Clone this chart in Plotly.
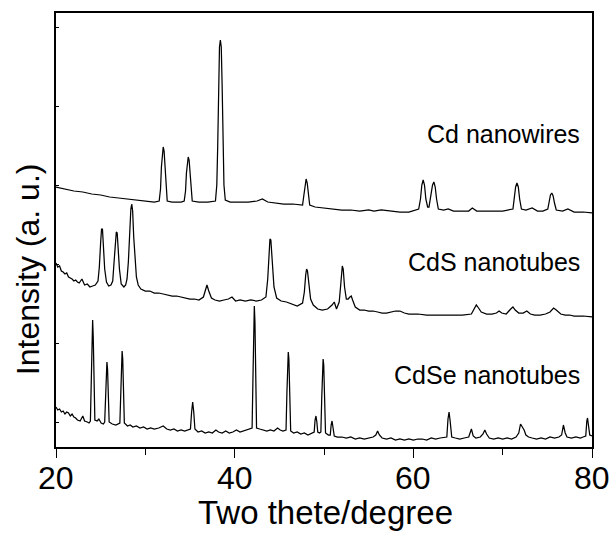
import plotly.graph_objects as go

# Two-theta (degree) and intensity (a.u.)
cd_x = [20.0, 21.0, 22.0, 23.0, 24.0, 25.0, 26.0, 27.0, 28.0, 29.0, 30.0, 31.0,
        31.55, 31.7, 31.8, 31.9, 32.0, 32.1, 32.2, 32.3, 32.45, 33.0, 34.0,
        34.35, 34.5, 34.6, 34.7, 34.8, 34.9, 35.0, 35.1, 35.25, 36.0, 37.0,
        37.85, 38.0, 38.1, 38.2, 38.3, 38.4, 38.5, 38.6, 38.7, 38.8, 38.95,
        39.5, 40.5, 41.5, 42.5, 43.1, 43.7, 44.5, 45.5, 46.5,
        47.6, 47.75, 47.88, 48.0, 48.12, 48.25, 48.4, 49.0, 50.0, 51.0, 52.0, 53.0, 54.0,
        55.0, 55.6, 56.4, 57.5, 58.5, 59.5,
        60.6, 60.8, 60.95, 61.1, 61.25, 61.4, 61.6, 61.75, 61.95, 62.15, 62.3, 62.45, 62.6, 62.8,
        63.4, 63.9, 64.5, 65.5, 66.2, 66.6, 67.1, 68.0, 69.0, 70.0,
        71.15, 71.3, 71.45, 71.6, 71.75, 71.9, 72.1, 72.6, 73.3, 73.9, 74.5,
        75.05, 75.2, 75.35, 75.5, 75.65, 75.8, 76.0, 76.7, 77.3, 78.0, 79.0, 80.0]
cd_y = [260, 258, 256, 255, 253, 252, 250, 249, 248, 247, 246, 245,
        246, 258, 280, 296, 300, 296, 280, 258, 246, 245, 245,
        246, 256, 274, 287, 290, 287, 274, 256, 246, 245, 245,
        246, 262, 300, 360, 400, 407, 400, 360, 300, 262, 247,
        245, 245, 245, 246, 248, 245, 244, 243, 243,
        242, 252, 264, 268, 264, 252, 242, 240, 239, 238, 237, 237, 236,
        237, 236, 237, 236, 235, 235,
        238, 248, 262, 267, 262, 248, 240, 240, 252, 262, 265, 260, 248, 238,
        237, 238, 236, 236, 236, 239, 236, 236, 236, 236,
        238, 248, 260, 264, 260, 248, 238, 237, 239, 236, 236,
        238, 245, 252, 254, 251, 244, 237, 236, 238, 235, 235, 234]

cds_x = [20.0, 20.2, 20.4, 20.6, 20.8, 21.0, 21.2, 21.4, 21.6, 21.8, 22.0, 22.2, 22.4, 22.6, 22.9,
         23.2, 23.5, 23.8, 24.1, 24.4, 24.7, 24.85, 25.0, 25.1, 25.2, 25.3, 25.45, 25.65, 25.9,
         26.15, 26.35, 26.5, 26.65, 26.75, 26.85, 26.95, 27.1, 27.3, 27.6, 27.8, 27.95, 28.1,
         28.25, 28.38, 28.48, 28.58, 28.7, 28.85, 29.0, 29.2, 29.5, 30.0, 30.5, 31.0, 31.5,
         32.0, 32.5, 33.0, 33.5, 34.0, 34.5, 35.0, 35.5, 36.0, 36.5, 36.7, 36.9, 37.1, 37.4,
         37.8, 38.3, 38.8, 39.3, 39.7, 40.1, 40.6, 41.2, 41.8, 42.4, 43.0, 43.5, 43.7, 43.85,
         43.95, 44.05, 44.2, 44.4, 44.7, 45.2, 45.8, 46.4, 47.0, 47.6, 47.8, 47.95, 48.05,
         48.15, 48.3, 48.5, 48.8, 49.3, 49.8, 50.4, 50.9, 51.15, 51.4, 51.7, 51.85, 51.97,
         52.05, 52.15, 52.3, 52.5, 52.7, 52.9, 53.05, 53.2, 53.5, 54.0, 54.5, 55.0, 55.5,
         56.0, 56.5, 57.0, 57.5, 58.0, 58.5, 59.0, 59.5, 60.5, 61.5, 62.5, 63.5, 64.5, 65.5,
         66.5, 66.8, 67.05, 67.3, 67.6, 68.2, 68.8, 69.3, 69.6, 69.9, 70.4, 70.9, 71.15,
         71.4, 71.8, 72.3, 72.7, 73.1, 73.6, 74.2, 74.8, 75.3, 75.7, 76.0, 76.5, 77.0, 77.5,
         78.0, 79.0, 80.0]
cds_y = [184, 180, 181, 176, 175, 173, 174, 170, 169, 168, 166, 167, 165, 164, 168,
         162, 163, 160, 161, 162, 166, 180, 205, 218, 218, 200, 178, 165, 161,
         162, 166, 185, 207, 215, 214, 200, 178, 163, 160, 162, 168, 185,
         215, 238, 243, 236, 210, 185, 170, 162, 158, 156, 156, 154, 154,
         153, 152, 151, 151, 150, 149, 148, 148, 147, 150, 157, 162, 156, 149,
         147, 146, 147, 148, 150, 146, 147, 146, 147, 146, 147, 150, 168, 195,
         208, 207, 185, 160, 149, 146, 145, 143, 141, 144, 155, 172, 178,
         176, 162, 148, 142, 138, 137, 138, 142, 145, 138, 145, 160, 176,
         181, 178, 160, 148, 148, 150, 151, 147, 140, 137, 137, 136, 136,
         135, 134, 134, 135, 136, 136, 134, 133, 133, 132, 132, 132, 132, 132,
         133, 138, 142, 139, 135, 133, 133, 134, 136, 134, 133, 138, 140,
         137, 134, 134, 136, 133, 132, 132, 133, 135, 139, 137, 133, 132, 132,
         131, 131, 130]

cdse_x = [20.0, 20.2, 20.4, 20.6, 20.8, 21.0, 21.2, 21.4, 21.6, 21.8, 22.0, 22.2, 22.4, 22.7, 23.0,
          23.2, 23.5, 23.7, 23.85, 23.95, 24.03, 24.1, 24.17, 24.25, 24.35, 24.6, 24.8, 25.05,
          25.3, 25.45, 25.55, 25.63, 25.7, 25.77, 25.85, 25.95, 26.3, 26.7, 27.15, 27.25, 27.33,
          27.4, 27.47, 27.55, 27.65, 28.0, 28.3, 28.6, 29.0, 29.4, 29.8, 30.2, 30.6, 31.0, 31.5,
          32.0, 32.4, 32.8, 33.2, 33.6, 34.0, 34.4, 34.8, 35.05, 35.18, 35.3, 35.42, 35.55, 35.9,
          36.3, 36.7, 37.1, 37.5, 37.9, 38.2, 38.6, 39.0, 39.4, 39.8, 40.2, 40.6, 41.0, 41.4,
          41.7, 41.95, 42.05, 42.13, 42.2, 42.27, 42.35, 42.45, 42.8, 43.2, 43.6, 44.0, 44.4,
          44.8, 45.1, 45.4, 45.75, 45.85, 45.93, 46.0, 46.07, 46.15, 46.27, 46.6, 47.0, 47.4,
          47.8, 48.2, 48.6, 48.9, 49.0, 49.1, 49.2, 49.3, 49.5, 49.65, 49.75, 49.83, 49.9,
          49.97, 50.05, 50.17, 50.5, 50.7, 50.8, 50.9, 51.0, 51.15, 51.5, 52.0, 52.5, 53.0,
          53.5, 54.0, 54.5, 55.0, 55.5, 55.8, 56.0, 56.2, 56.5, 57.0, 57.5, 58.0, 58.5, 59.0,
          59.5, 60.0, 60.5, 61.0, 61.5, 62.0, 62.5, 63.0, 63.5, 63.75, 63.88, 64.0, 64.12,
          64.3, 64.7, 65.2, 65.7, 66.2, 66.5, 66.7, 67.0, 67.5, 67.8, 68.0, 68.2, 68.5, 69.0,
          69.5, 70.0, 70.5, 71.0, 71.5, 71.8, 72.0, 72.2, 72.4, 72.6, 72.9, 73.3, 73.8, 74.3,
          74.8, 75.3, 75.8, 76.3, 76.6, 76.8, 77.0, 77.2, 77.7, 78.2, 78.7, 79.0, 79.3, 79.42,
          79.5, 79.6, 79.75, 80.0]
cdse_y = [40, 37, 38, 35, 36, 33, 35, 34, 31, 33, 30, 29, 27, 26, 31,
          26, 25, 24, 26, 60, 110, 127, 110, 60, 27, 26, 28, 24,
          23, 25, 55, 80, 85, 78, 50, 25, 23, 22, 24, 55, 88,
          96, 88, 55, 24, 21, 22, 20, 21, 19, 20, 18, 19, 18, 19,
          21, 18, 17, 18, 16, 17, 16, 17, 18, 35, 45, 35, 18, 15,
          16, 14, 15, 14, 17, 15, 14, 16, 14, 15, 17, 15, 16, 17,
          18, 19, 70, 125, 141, 125, 70, 19, 18, 17, 16, 17, 16,
          19, 17, 16, 17, 55, 88, 95, 88, 55, 16, 14, 15, 13,
          14, 12, 14, 15, 27, 31, 25, 15, 14, 15, 50, 82, 88,
          82, 50, 14, 12, 12, 22, 26, 20, 11, 10, 10, 9, 10,
          8, 9, 8, 9, 10, 12, 16, 12, 9, 8, 9, 7, 8, 7,
          8, 7, 8, 8, 7, 9, 8, 9, 10, 10, 28, 35, 26,
          10, 9, 8, 9, 10, 18, 11, 9, 10, 13, 17, 13, 9, 8,
          9, 8, 9, 8, 10, 14, 23, 20, 17, 12, 10, 9, 8, 9,
          8, 10, 9, 10, 12, 22, 14, 10, 9, 10, 9, 10, 11, 26,
          29, 22, 12, 11]

labels = ["Cd nanowires", "CdS nanotubes", "CdSe nanotubes"]
label_y = [313, 185, 72]
x_ticks = [20, 40, 60, 80]
x_minor = [30, 50, 70]

FONT = "Liberation Sans, Arial, sans-serif"

fig = go.Figure()
for xs, ys in [(cd_x, cd_y), (cds_x, cds_y), (cdse_x, cdse_y)]:
    fig.add_trace(go.Scatter(x=xs, y=ys, mode="lines",
                             line=dict(color="black", width=1.25), showlegend=False))

for t, yv in zip(labels, label_y):
    fig.add_annotation(x=78.9, y=yv, text=t, showarrow=False, xanchor="right", yanchor="middle",
                       font=dict(family=FONT, size=25, color="black"))

# x tick labels as annotations (placed close below the ticks)
for v in x_ticks:
    fig.add_annotation(x=v, y=-0.071, xref="x", yref="paper", text=str(v), showarrow=False,
                       xanchor="center", yanchor="middle",
                       font=dict(family=FONT, size=32, color="black"))

# axis titles placed in paper coordinates
fig.add_annotation(x=0.502, y=-0.152, xref="paper", yref="paper", text="Two thete/degree",
                   showarrow=False, xanchor="center", yanchor="middle",
                   font=dict(family=FONT, size=33, color="black"))
fig.add_annotation(x=-0.052, y=0.41, xref="paper", yref="paper", text="Intensity (a. u.)",
                   showarrow=False, xanchor="center", yanchor="middle", textangle=-90,
                   font=dict(family=FONT, size=32, color="black"))

fig.update_layout(
    width=612, height=533,
    margin=dict(l=56, r=20, t=13, b=86, autoexpand=False),
    paper_bgcolor="white", plot_bgcolor="white",
    font=dict(family=FONT, color="black"),
)
fig.update_xaxes(
    range=[20, 80], tickvals=x_ticks, showticklabels=False,
    ticks="outside", ticklen=9, tickwidth=1.2, tickcolor="black",
    minor=dict(tickvals=x_minor, ticks="outside", ticklen=6, tickwidth=1.2, tickcolor="black"),
    showline=True, linecolor="black", linewidth=1.5, mirror=True,
    showgrid=False, zeroline=False, automargin=False,
)
fig.update_yaxes(
    range=[0, 434], tick0=25, dtick=79, showticklabels=False,
    ticks="inside", ticklen=3, tickwidth=1, tickcolor="black",
    showline=True, linecolor="black", linewidth=1.5, mirror=True,
    showgrid=False, zeroline=False, automargin=False,
)

fig.write_html("out.html", config={"displayModeBar": False},
               post_script="document.body.style.margin='0';")
